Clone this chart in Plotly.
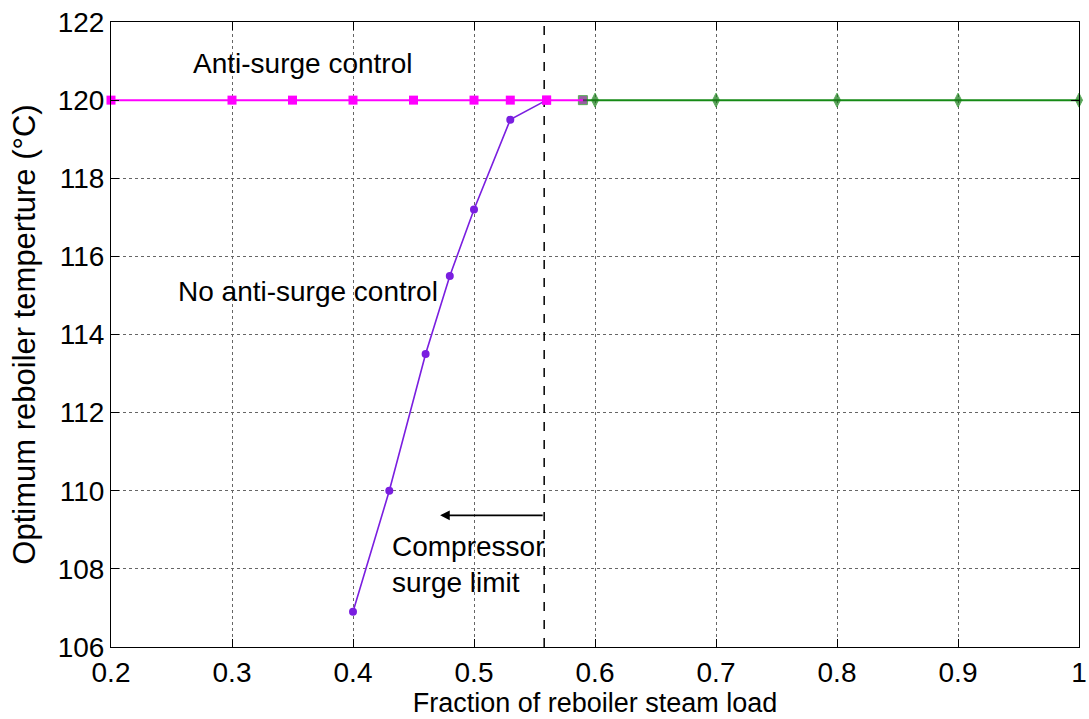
import plotly.graph_objects as go

# Anti-surge control: reboiler held at its maximum temperature
anti_x = [0.2, 0.3, 0.35, 0.4, 0.45, 0.5, 0.53, 0.56, 0.59]
anti_y = [120, 120, 120, 120, 120, 120, 120, 120, 120]

# No anti-surge control: temperature must drop below the surge limit
noanti_x = [0.4, 0.43, 0.46, 0.48, 0.5, 0.53, 0.56]
noanti_y = [106.9, 110.0, 113.5, 115.5, 117.2, 119.5, 120.0]

# Above the surge limit both strategies coincide
high_x = [0.59, 0.6, 0.7, 0.8, 0.9, 1.0]
high_y = [120, 120, 120, 120, 120, 120]

surge_limit = 0.558
arrow_tip = 0.472
arrow_y = 109.37

x_ticks = [0.2, 0.3, 0.4, 0.5, 0.6, 0.7, 0.8, 0.9, 1.0]
x_labels = ["0.2", "0.3", "0.4", "0.5", "0.6", "0.7", "0.8", "0.9", "1"]
y_ticks = [106, 108, 110, 112, 114, 116, 118, 120, 122]

FONT = "Liberation Sans, Arial, sans-serif"

fig = go.Figure()

# compressor surge limit (dashed vertical)
fig.add_trace(go.Scatter(
    x=[surge_limit, surge_limit], y=[106, 122], mode="lines",
    line=dict(color="black", width=1.5, dash="dash"),
    hoverinfo="skip", showlegend=False,
))

fig.add_trace(go.Scatter(
    x=high_x, y=high_y, mode="lines+markers", cliponaxis=False,
    line=dict(color="#168a16", width=2),
    marker=dict(symbol=["square"] + ["diamond-tall"] * (len(high_x) - 1),
                size=[9] + [10] * (len(high_x) - 1),
                color=["#6a1f78"] + ["#157515"] * (len(high_x) - 1)),
    showlegend=False,
))

fig.add_trace(go.Scatter(
    x=anti_x[:-1], y=anti_y[:-1], mode="lines+markers", cliponaxis=False,
    line=dict(color="#ff00ff", width=2),
    marker=dict(symbol="square", size=9, color="#ff00ff"),
    showlegend=False,
))
# connecting segment to the shared point
fig.add_trace(go.Scatter(
    x=anti_x[-2:], y=anti_y[-2:], mode="lines",
    line=dict(color="#ff00ff", width=2),
    showlegend=False,
))

fig.add_trace(go.Scatter(
    x=noanti_x, y=noanti_y, mode="lines+markers",
    line=dict(color="#7a1ee0", width=1.6),
    marker=dict(symbol="circle", size=8, color="#7a1ee0"),
    showlegend=False,
))

# redraw the magenta square at the surge limit on top
fig.add_trace(go.Scatter(
    x=[anti_x[-2]], y=[anti_y[-2]], mode="markers",
    marker=dict(symbol="square", size=9, color="#ff00ff"),
    showlegend=False,
))

ann_font = dict(family=FONT, size=28, color="black")
fig.add_annotation(x=0.358, y=120.94, text="Anti-surge control", showarrow=False,
                   font=ann_font, xanchor="center", yanchor="middle")
fig.add_annotation(x=0.3624, y=115.1, text="No anti-surge control", showarrow=False,
                   font=ann_font, xanchor="center", yanchor="middle")
fig.add_annotation(x=0.4306, y=108.1, text="Compressor<br>surge limit", showarrow=False,
                   font=ann_font, xanchor="left", yanchor="middle", align="left")
fig.add_annotation(x=arrow_tip, y=arrow_y, ax=surge_limit, ay=arrow_y,
                   xref="x", yref="y", axref="x", ayref="y",
                   text="", showarrow=True, arrowhead=2, arrowsize=1.2,
                   arrowwidth=1.6, arrowcolor="black")

axis_common = dict(
    showline=True, linecolor="black", linewidth=1, mirror="ticks",
    ticks="inside", ticklen=8, tickcolor="black",
    showgrid=True, gridcolor="#666666", griddash="dot", gridwidth=1,
    zeroline=False,
    tickfont=dict(family=FONT, size=28, color="black"),
)

fig.update_xaxes(
    range=[0.2, 1.0], tickvals=x_ticks, ticktext=x_labels,
    title=dict(text="Fraction of reboiler steam load",
               font=dict(family=FONT, size=27, color="black"), standoff=0),
    **axis_common,
)
fig.update_yaxes(
    range=[106, 122], tickvals=y_ticks,
    title=dict(text="Optimum reboiler temperture (°C)",
               font=dict(family=FONT, size=31, color="black"), standoff=12),
    **axis_common,
)

fig.update_layout(
    width=1089, height=719,
    margin=dict(l=111, r=10, t=22, b=72, autoexpand=False),
    paper_bgcolor="white", plot_bgcolor="white",
)

fig.write_html("out.html")
